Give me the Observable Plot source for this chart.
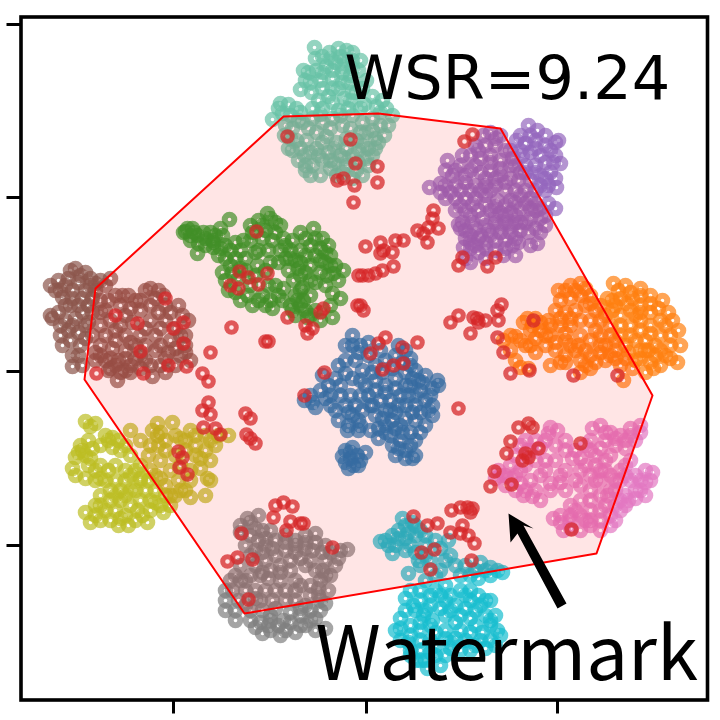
<!DOCTYPE html>
<html><head><meta charset="utf-8">
<script src="https://cdn.jsdelivr.net/npm/d3@7"></script>
<script src="https://cdn.jsdelivr.net/npm/@observablehq/plot@0.6"></script>
<style>html,body{margin:0;padding:0;background:#fff}svg{display:block;filter:blur(0.4px)}</style>
</head><body><div id="chart"></div>
<script>
const teal=[[314,47],[315,58],[322,56],[303,70],[308,72],[300,89],[329,52],[338,48],[346,50],[352,52],[344,60],[335,62],[326,66],[316,70],[320,80],[311,92],[322,88],[332,78],[342,72],[352,68],[360,60],[348,82],[338,88],[328,96],[280,103],[288,104],[296,108],[272,119],[282,113],[300,112],[322,108],[332,102],[344,98],[356,92],[366,80],[372,96],[382,100],[392,115],[388,125],[384,135],[378,142],[372,155],[368,165],[362,175],[352,178],[342,172],[330,168],[320,175],[305,170],[298,160],[288,148],[284,135],[292,128],[302,122],[312,118],[322,122],[332,118],[342,125],[352,115],[362,122],[372,118],[380,112],[366,132],[356,140],[346,138],[336,142],[326,136],[316,132],[306,140],[296,140],[304,155],[316,148],[328,152],[340,155],[352,155],[362,145],[372,130],[312,165],[322,160],[334,163],[346,165],[358,162],[360,108],[348,108],[330,58],[340,56],[352,60],[310,82],[305,80],[322,72],[332,70],[342,66],[350,75],[358,70],[332,88],[342,82],[352,92],[362,88],[312,108],[318,100],[338,110],[350,100],[364,104],[376,106],[386,108],[290,115],[298,120],[285,125],[278,108],[308,128],[320,114],[330,128],[340,115],[350,128],[360,132],[375,138],[380,125],[292,150],[300,148],[310,152],[322,142],[334,148],[346,148],[358,150],[368,148],[305,165],[318,155],[330,160],[345,158],[356,170],[336,175],[310,175],[366,158],[375,148],[290,138]];
const purple=[[528,125],[537,130],[520,135],[516,140],[525,143],[535,140],[545,135],[555,142],[558,140],[550,150],[540,155],[530,152],[520,150],[510,150],[515,165],[525,165],[535,165],[545,162],[553,162],[560,163],[550,172],[540,175],[548,185],[555,178],[545,190],[556,187],[530,180],[518,180],[483,135],[490,132],[500,135],[475,145],[485,145],[495,145],[505,150],[470,155],[480,158],[490,155],[500,160],[447,160],[452,175],[445,170],[460,165],[470,170],[480,172],[490,170],[500,175],[510,178],[515,190],[505,190],[495,185],[485,185],[475,185],[465,182],[455,185],[445,185],[440,183],[429,187],[445,198],[455,198],[465,198],[475,198],[485,195],[497,200],[510,200],[520,195],[530,198],[548,203],[555,208],[540,208],[530,208],[520,208],[510,212],[500,212],[490,210],[478,210],[465,210],[455,210],[462,222],[472,222],[485,225],[495,222],[505,222],[515,222],[530,218],[540,218],[535,228],[520,230],[510,232],[500,232],[490,235],[480,235],[470,235],[460,228],[458,224],[465,238],[478,238],[505,240],[518,242],[530,245],[537,243],[463,247],[470,248],[478,252],[465,258],[470,262],[485,248],[495,250],[505,248],[512,245],[515,255],[503,255],[485,258],[530,135],[522,155],[535,148],[545,145],[555,155],[512,158],[525,172],[535,172],[545,178],[520,172],[540,185],[525,190],[535,190],[495,138],[478,150],[490,162],[500,168],[510,165],[462,155],[455,170],[465,175],[475,165],[485,178],[495,178],[505,182],[460,190],[470,190],[480,190],[490,190],[450,192],[440,192],[460,205],[472,204],[485,204],[495,206],[505,205],[515,202],[525,203],[535,203],[515,215],[525,222],[535,210],[545,215],[470,215],[482,218],[495,215],[505,215],[465,230],[475,228],[488,230],[500,226],[510,226],[520,222],[528,232],[515,238],[495,240],[485,242],[470,242],[475,245],[545,225],[540,232]];
const orange=[[613,283],[625,285],[640,288],[650,295],[662,300],[672,320],[678,330],[670,345],[680,345],[670,358],[677,362],[660,365],[650,362],[640,358],[628,352],[615,350],[605,345],[600,335],[610,325],[620,315],[630,310],[640,305],[650,312],[660,320],[650,325],[640,320],[630,325],[620,335],[635,340],[645,340],[655,345],[660,335],[640,350],[620,298],[607,298],[600,305],[612,310],[632,298],[605,360],[620,365],[632,368],[645,372],[653,368],[558,290],[570,285],[580,283],[560,300],[570,298],[580,295],[590,295],[595,310],[590,320],[585,305],[575,310],[565,312],[555,310],[548,320],[535,318],[527,318],[530,330],[540,330],[550,335],[560,325],[570,325],[580,335],[590,340],[600,352],[590,355],[578,345],[565,340],[555,350],[545,345],[565,355],[580,360],[590,368],[550,365],[565,362],[580,372],[623,380],[523,322],[525,345],[530,345],[535,352],[515,336],[510,335],[510,350],[515,360],[503,340],[520,367],[528,368],[618,290],[630,292],[640,295],[650,303],[658,308],[668,312],[665,325],[670,335],[660,350],[665,355],[648,350],[630,335],[625,345],[615,340],[610,335],[620,325],[635,315],[612,300],[605,315],[615,305],[626,303],[640,312],[650,333],[640,330],[655,355],[625,358],[610,355],[600,345],[595,330],[600,320],[565,290],[575,290],[585,288],[590,303],[580,320],[570,318],[560,318],[550,325],[545,335],[555,342],[565,333],[575,350],[585,350],[570,345],[560,362],[595,362],[585,365],[532,325],[535,338],[540,322],[520,340],[615,358],[635,360],[645,350]];
const blue=[[304,400],[310,395],[315,407],[322,375],[328,385],[320,390],[330,395],[338,365],[345,373],[340,385],[350,395],[345,405],[330,405],[338,420],[348,425],[358,420],[345,345],[352,335],[360,345],[368,355],[355,360],[362,370],[375,365],[385,360],[395,355],[405,350],[410,358],[398,345],[375,380],[385,385],[395,378],[405,372],[415,370],[425,375],[438,385],[437,380],[430,395],[420,390],[410,385],[400,395],[390,400],[380,400],[368,395],[362,410],[375,415],[385,410],[395,412],[405,405],[415,405],[428,410],[432,415],[425,425],[415,420],[405,418],[395,428],[385,425],[410,432],[420,432],[400,440],[410,445],[392,445],[415,455],[395,455],[405,458],[412,458],[345,450],[352,447],[345,462],[353,465],[360,460],[365,452],[357,455],[350,458],[360,380],[352,378],[347,430],[358,430],[370,430],[378,428],[370,405],[360,395],[380,350],[368,342],[312,402],[325,398],[335,378],[345,360],[358,352],[352,345],[340,395],[348,412],[335,410],[355,405],[365,385],[372,372],[382,372],[392,368],[402,362],[412,378],[422,382],[432,388],[425,400],[415,395],[405,385],[395,388],[385,392],[375,390],[372,405],[382,418],[392,420],[400,425],[412,412],[420,412],[398,405],[408,395],[432,405],[402,432],[390,435],[415,440],[405,450],[398,448],[350,452],[342,456],[348,468],[358,465],[385,432],[378,438],[410,365],[418,380],[390,410],[360,425],[352,415]];
const green=[[185,231],[192,228],[190,240],[198,243],[197,235],[190,235],[210,232],[220,228],[229,219],[222,235],[212,240],[213,247],[197,253],[213,242],[225,245],[225,258],[235,242],[243,240],[255,252],[258,250],[250,225],[258,220],[267,213],[275,222],[280,225],[265,230],[272,240],[280,250],[285,245],[268,250],[257,265],[245,258],[235,258],[230,265],[222,272],[225,280],[235,292],[247,295],[258,300],[270,300],[278,295],[275,285],[262,295],[250,285],[265,270],[285,258],[300,232],[313,228],[322,238],[328,245],[330,255],[320,260],[310,245],[300,250],[295,260],[310,265],[320,272],[330,265],[310,280],[300,275],[293,280],[283,288],[297,300],[302,287],[327,275],[333,273],[343,270],[332,293],[340,298],[332,317],[292,310],[307,317],[300,305],[310,295],[325,285],[330,305],[320,320],[310,315],[295,315],[187,228],[183,232],[194,232],[205,238],[203,232],[215,235],[205,245],[220,248],[218,255],[230,250],[240,250],[250,240],[252,232],[262,225],[270,218],[262,238],[275,232],[283,238],[290,250],[292,240],[278,262],[270,262],[240,268],[232,272],[228,290],[240,300],[252,305],[265,305],[272,308],[282,300],[290,258],[305,238],[315,238],[320,248],[305,255],[315,255],[325,252],[305,272],[315,282],[298,268],[288,270],[300,290],[303,300],[295,295],[338,280],[335,265],[305,310],[315,310],[290,305],[245,270],[255,275],[238,278],[268,285],[300,262],[325,262]];
const brown=[[70,270],[80,275],[90,278],[100,280],[110,278],[55,290],[65,285],[50,285],[62,297],[72,290],[85,290],[95,290],[50,315],[52,318],[70,305],[78,305],[88,305],[65,320],[75,318],[88,322],[60,335],[70,340],[80,345],[72,355],[85,325],[92,335],[100,300],[105,310],[115,295],[122,295],[135,300],[145,290],[150,288],[158,290],[140,310],[150,305],[165,305],[178,305],[188,320],[180,335],[165,320],[150,320],[125,315],[115,330],[100,325],[125,335],[140,335],[155,335],[170,340],[185,335],[100,345],[112,348],[125,350],[140,355],[155,350],[168,352],[180,355],[190,360],[175,365],[160,365],[145,360],[130,365],[115,365],[105,360],[95,360],[117,380],[125,370],[152,376],[110,368],[78,355],[82,365],[72,366],[118,360],[135,345],[75,268],[85,272],[95,283],[58,280],[68,278],[60,290],[78,282],[90,285],[105,285],[58,312],[65,305],[72,298],[82,298],[92,298],[82,312],[92,312],[72,325],[60,325],[62,345],[68,330],[78,332],[85,338],[100,312],[108,300],[110,320],[120,305],[130,308],[128,295],[140,300],[155,298],[163,295],[158,312],[170,312],[182,315],[175,328],[160,328],[145,328],[132,322],[120,325],[105,335],[115,340],[130,342],[145,345],[160,345],[175,348],[185,345],[100,355],[110,358],[125,358],[135,358],[150,365],[165,358],[185,352],[140,368],[120,372],[95,352],[108,370],[130,372],[165,372]];
const olive=[[85,421],[95,423],[130,430],[82,450],[75,457],[72,468],[80,445],[88,440],[105,435],[108,440],[112,447],[120,450],[90,458],[95,470],[75,475],[85,478],[95,480],[108,470],[115,465],[125,480],[135,470],[140,465],[150,470],[130,490],[145,490],[155,490],[140,440],[150,445],[157,435],[157,423],[172,422],[152,430],[160,432],[175,435],[190,430],[180,438],[195,445],[205,435],[218,435],[228,435],[205,450],[195,455],[165,450],[160,460],[170,470],[155,475],[165,485],[178,480],[190,480],[200,468],[210,480],[207,478],[205,495],[190,497],[175,495],[160,505],[170,505],[185,490],[163,512],[147,522],[142,515],[128,525],[118,525],[100,520],[105,510],[95,505],[85,512],[90,522],[100,495],[110,490],[120,500],[130,505],[115,510],[140,500],[125,515],[137,510],[150,500],[90,426],[78,452],[85,455],[92,448],[100,445],[112,437],[118,440],[125,445],[130,455],[88,465],[100,478],[105,480],[115,480],[100,465],[125,470],[130,475],[140,478],[148,480],[160,478],[148,455],[158,445],[165,440],[185,440],[195,435],[210,440],[215,445],[210,460],[200,458],[185,450],[175,455],[180,465],[190,470],[180,490],[170,495],[165,495],[150,510],[155,502],[135,490],[120,490],[110,500],[100,505],[95,515],[110,520],[120,518],[135,520],[140,480],[125,495],[115,495]];
const gray=[[247,518],[258,515],[240,525],[250,535],[262,530],[270,530],[245,545],[255,550],[265,545],[275,540],[285,535],[295,540],[305,535],[315,533],[312,550],[305,548],[295,552],[285,550],[275,555],[265,560],[255,565],[240,565],[235,575],[225,590],[230,580],[245,580],[270,570],[280,565],[290,570],[305,565],[315,570],[325,560],[335,565],[347,549],[340,550],[325,545],[310,585],[320,580],[330,575],[300,585],[295,580],[280,580],[275,590],[265,590],[255,590],[245,590],[260,600],[272,600],[285,600],[295,600],[305,605],[318,595],[328,590],[245,605],[225,610],[225,600],[235,610],[250,620],[260,622],[270,615],[290,612],[300,615],[310,610],[320,610],[325,603],[262,633],[270,630],[270,620],[285,630],[295,632],[305,625],[315,630],[325,628],[280,635],[255,627],[250,522],[240,532],[255,528],[265,538],[258,540],[250,555],[262,552],[272,548],[285,542],[295,545],[305,542],[315,542],[322,552],[300,558],[290,560],[280,572],[268,578],[260,575],[250,575],[240,580],[232,590],[238,600],[262,610],[250,610],[275,608],[285,590],[295,590],[310,595],[318,588],[325,575],[338,558],[330,552],[310,560],[322,570],[255,598],[268,625],[278,625],[290,622],[300,625],[310,620],[315,618],[320,600],[300,608],[283,620],[235,620],[262,572]];
const pink=[[550,427],[557,430],[545,440],[555,445],[565,440],[535,440],[520,445],[515,455],[525,440],[575,450],[585,445],[592,428],[600,425],[610,432],[620,435],[630,428],[640,425],[635,440],[625,448],[615,445],[605,440],[590,440],[580,458],[595,455],[605,460],[595,465],[580,470],[565,470],[555,460],[545,460],[535,460],[520,470],[510,465],[500,475],[495,478],[505,485],[515,490],[523,495],[530,480],[540,475],[550,490],[565,490],[550,483],[570,505],[580,500],[590,490],[600,480],[610,475],[620,470],[625,465],[635,475],[645,470],[652,472],[650,480],[640,490],[645,495],[635,498],[625,495],[615,490],[607,495],[615,505],[600,510],[590,510],[580,515],[570,520],[560,515],[553,518],[590,520],[600,520],[610,515],[620,510],[628,500],[615,520],[563,530],[580,530],[570,528],[590,525],[525,490],[532,496],[540,500],[510,478],[620,480],[605,505],[548,433],[540,447],[528,450],[530,450],[565,450],[572,458],[590,450],[605,432],[615,438],[630,435],[625,440],[640,432],[600,448],[610,455],[585,465],[575,480],[560,475],[545,470],[525,465],[515,475],[505,475],[498,470],[520,483],[535,490],[560,482],[580,485],[590,475],[600,470],[610,490],[600,495],[590,500],[630,480],[640,480],[645,482],[635,490],[625,505],[575,510],[585,520],[600,530],[610,525],[570,515],[560,522],[615,480],[605,470],[625,475],[630,460],[595,480],[620,500]];
const cyan=[[380,541],[385,540],[392,535],[398,530],[405,525],[402,518],[412,522],[420,530],[415,535],[405,538],[395,545],[392,553],[405,550],[425,545],[435,540],[448,540],[418,560],[430,560],[408,573],[420,565],[425,580],[435,575],[445,560],[450,555],[460,575],[465,565],[480,562],[485,570],[490,575],[497,570],[502,572],[478,578],[470,590],[460,590],[445,585],[435,590],[420,590],[410,590],[405,598],[413,605],[420,600],[430,605],[445,600],[455,605],[470,600],[485,600],[490,600],[423,615],[432,620],[445,615],[460,615],[475,610],[490,620],[405,610],[400,618],[395,630],[400,640],[410,635],[420,630],[435,632],[445,630],[460,630],[475,625],[490,625],[497,630],[500,635],[490,640],[480,640],[465,640],[450,642],[435,645],[420,650],[410,650],[425,660],[445,655],[470,650],[427,668],[410,655],[388,545],[398,538],[408,532],[415,525],[425,535],[440,548],[410,545],[415,552],[425,555],[440,570],[455,565],[470,575],[475,570],[490,567],[430,595],[440,595],[450,595],[465,595],[478,595],[415,610],[425,610],[440,608],[450,610],[465,608],[480,605],[495,615],[410,625],[420,622],[430,625],[455,622],[470,618],[485,615],[400,628],[408,642],[420,640],[430,640],[445,638],[455,638],[470,632],[482,632],[495,645],[460,650],[435,655],[420,660],[450,648],[475,645],[485,648],[440,665],[430,652],[415,660]];
const red=[[472,134],[464,141],[458,265],[462,257],[487,266],[495,257],[501,304],[497,310],[498,320],[458,315],[450,322],[470,333],[477,318],[485,320],[478,322],[473,317],[433,210],[432,218],[438,228],[427,242],[417,230],[423,233],[428,227],[403,240],[395,240],[380,242],[365,246],[392,252],[380,253],[383,250],[393,266],[382,270],[375,273],[368,275],[362,275],[360,305],[363,310],[377,166],[377,182],[287,136],[350,139],[355,163],[337,180],[343,178],[354,185],[353,202],[256,231],[239,271],[267,273],[258,284],[230,285],[238,288],[248,277],[358,275],[357,305],[287,317],[320,312],[323,308],[305,325],[307,333],[312,328],[231,327],[265,341],[268,341],[210,352],[165,298],[115,315],[137,323],[183,322],[173,328],[183,343],[140,351],[96,373],[143,373],[168,365],[186,366],[202,373],[208,381],[208,402],[202,410],[210,414],[203,427],[215,428],[220,434],[245,413],[250,418],[246,434],[250,438],[255,443],[178,451],[182,457],[179,467],[187,474],[324,372],[304,395],[275,505],[283,502],[292,506],[273,517],[290,521],[300,523],[303,523],[286,530],[241,533],[227,561],[237,557],[252,559],[332,547],[248,599],[382,369],[393,365],[403,363],[458,408],[528,423],[518,427],[532,427],[510,441],[506,453],[538,448],[525,453],[522,460],[528,457],[580,443],[494,471],[490,486],[511,484],[571,529],[413,516],[427,525],[437,523],[451,510],[460,507],[467,507],[472,508],[470,512],[450,532],[462,525],[460,533],[468,535],[474,543],[421,552],[434,549],[471,560],[430,569],[385,337],[370,353],[417,342],[402,347],[378,343],[497,337],[503,352],[533,320],[510,373],[529,370],[573,375],[617,375]];
const hullX=[283,378,500,652,596,244,84,95];
const hullY=[116,113,128,395,553,613,379,288];
const arrowX=[508,533,523,566,557,517,510];
const arrowY=[513,528,525,603,608,533,542];
const xTicks=[173,366,557];
const yTicks=[24,197,371,545];
const labels=[{t:"WSR=9.24",x:344,y:98,s:60.5,f:"DejaVu Sans"},{t:"Watermark",x:315,y:679,s:74.4,f:"Noto Sans CJK SC"}];
const classes=[[blue,"#1f77b4"],[orange,"#ff7f0e"],[green,"#2ca02c"],[purple,"#9467bd"],[brown,"#8c564b"],[pink,"#e377c2"],[gray,"#7f7f7f"],[olive,"#bcbd22"],[cyan,"#17becf"],[teal,"#66c2a5"]];
const ring=(pts,c,o,w)=>Plot.dot(pts,{x:d=>d[0],y:d=>d[1],r:4.8,stroke:c,strokeWidth:w,strokeOpacity:o,fill:"none"});
const hull=hullX.map((x,i)=>({x,y:hullY[i]}));
const arrow=arrowX.map((x,i)=>({x,y:arrowY[i]}));
const chart=Plot.plot({
  width:720,height:720,
  marginLeft:20.5,marginRight:13,marginTop:16.5,marginBottom:20.5,
  style:{background:"#fff"},
  x:{domain:[20.5,707]},
  y:{domain:[16.5,699.5],reverse:true},
  marks:[
    ...classes.map(([p,c])=>ring(p,c,0.7,6)),
    Plot.line(hull,{x:"x",y:"y",curve:"linear-closed",fill:"#ff0000",fillOpacity:0.1,stroke:"none"}),
    ring(red,"#d62728",0.75,5),
    Plot.line(hull,{x:"x",y:"y",curve:"linear-closed",fill:"none",stroke:"#ff0000",strokeWidth:2}),
    Plot.line(arrow,{x:"x",y:"y",curve:"linear-closed",fill:"#000",stroke:"none"}),
    Plot.frame({stroke:"#000",strokeWidth:3.6}),
    Plot.axisX(xTicks,{anchor:"bottom",tickSize:14,strokeWidth:3,stroke:"#000",tickFormat:()=>"",label:null}),
    Plot.axisY(yTicks,{anchor:"left",tickSize:14,strokeWidth:3,stroke:"#000",tickFormat:()=>"",label:null}),
    ...labels.map(l=>Plot.text([l],{x:"x",y:"y",text:"t",textAnchor:"start",lineAnchor:"bottom",fontSize:l.s,fontFamily:l.f,fill:"#000"}))
  ]
});
document.getElementById("chart").append(chart);
</script></body></html>
